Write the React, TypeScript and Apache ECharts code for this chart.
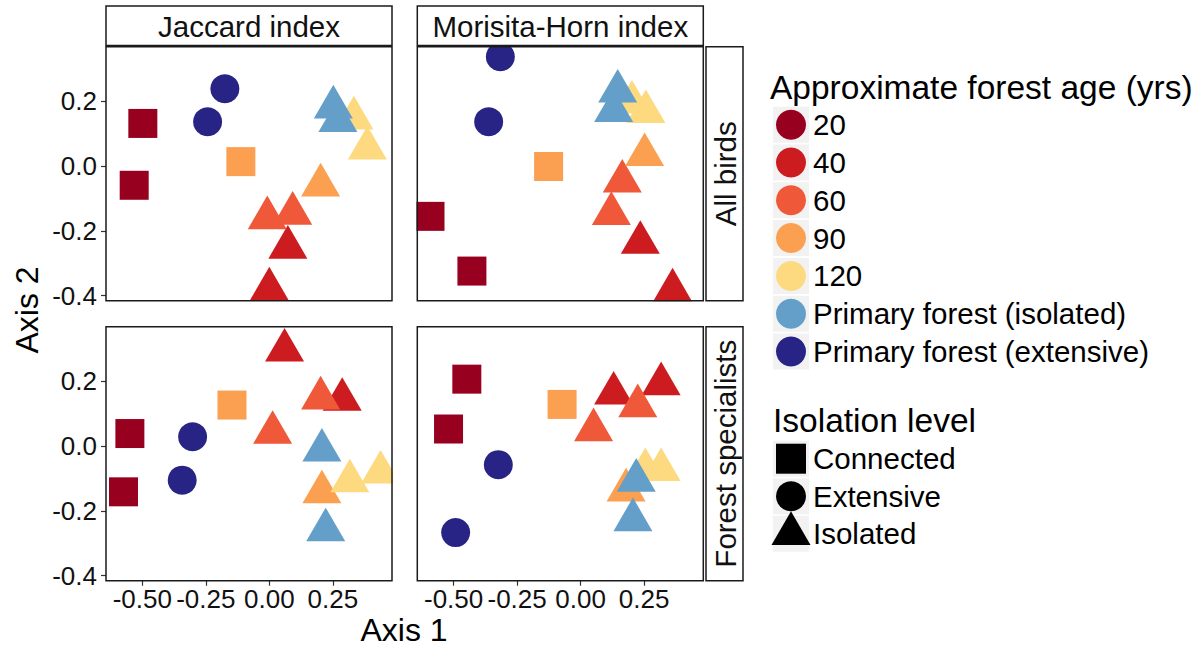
import React, { useEffect, useRef } from "react";
import * as echarts from "echarts";

// ---------- data ----------
const ageLevels = ["20", "40", "60", "90", "120", "Primary forest (isolated)", "Primary forest (extensive)"];
const ageColors = ["#97001F", "#CC1C20", "#EF5838", "#FB9F51", "#FDD980", "#649FC9", "#272485"];
const isolationLevels = ["Connected", "Extensive", "Isolated"];
const facetCols = ["Jaccard index", "Morisita-Horn index"];
const facetRows = ["All birds", "Forest specialists"];
const xTicks = [-0.5, -0.25, 0, 0.25];
const yTicks = [-0.4, -0.2, 0, 0.2];

// 14 sites, same order in each panel
const siteAge = [
  "20", "20", "90",
  "Primary forest (extensive)", "Primary forest (extensive)",
  "40", "40", "60", "60", "90", "120", "120",
  "Primary forest (isolated)", "Primary forest (isolated)",
];
const siteIsolation = [
  "Connected", "Connected", "Connected",
  "Extensive", "Extensive",
  "Isolated", "Isolated", "Isolated", "Isolated", "Isolated", "Isolated", "Isolated",
  "Isolated", "Isolated",
];

const jaccardAllX = [-0.498, -0.532, -0.112, -0.175, -0.243, 0.073, 0.0, -0.008, 0.092, 0.202, 0.333, 0.386, 0.252, 0.27];
const jaccardAllY = [0.132, -0.059, 0.014, 0.239, 0.137, -0.251, -0.38, -0.16, -0.146, -0.059, 0.148, 0.055, 0.182, 0.14];

const morisitaAllX = [-0.593, -0.428, -0.126, -0.316, -0.362, 0.235, 0.362, 0.164, 0.121, 0.252, 0.202, 0.257, 0.146, 0.13];
const morisitaAllY = [-0.155, -0.324, -0.001, 0.338, 0.137, -0.236, -0.383, -0.047, -0.147, 0.035, 0.197, 0.168, 0.231, 0.171];

const jaccardForestX = [-0.549, -0.574, -0.147, -0.302, -0.343, 0.06, 0.287, 0.202, 0.013, 0.207, 0.317, 0.438, 0.207, 0.222];
const jaccardForestY = [0.039, -0.141, 0.127, 0.029, -0.105, 0.296, 0.144, 0.148, 0.042, -0.142, -0.108, -0.081, -0.013, -0.259];

const morisitaForestX = [-0.448, -0.52, -0.073, -0.324, -0.492, 0.13, 0.317, 0.225, 0.051, 0.179, 0.255, 0.317, 0.219, 0.206];
const morisitaForestY = [0.207, 0.053, 0.129, -0.057, -0.267, 0.163, 0.192, 0.124, 0.05, -0.136, -0.073, -0.073, -0.106, -0.228];

// ---------- layout ----------
const FONT = "Liberation Sans";
const X_MIN = -0.643, X_MAX = 0.483;
const Y_MIN = -0.4155, Y_MAX = 0.369;
const panelLeft = [106, 417.3];
const panelTop = [46.7, 326.7];
const PW = 286, PH = 254;
const SQ = 29, CIR = 29, TRI_W = 39, TRI_H = 33.6;

const panels = [
  { r: 0, c: 0, xs: jaccardAllX, ys: jaccardAllY },
  { r: 0, c: 1, xs: morisitaAllX, ys: morisitaAllY },
  { r: 1, c: 0, xs: jaccardForestX, ys: jaccardForestY },
  { r: 1, c: 1, xs: morisitaForestX, ys: morisitaForestY },
];

function symbolFor(iso: string) {
  if (iso === "Connected") return { symbol: "rect", symbolSize: SQ, symbolOffset: [0, 0] };
  if (iso === "Extensive") return { symbol: "circle", symbolSize: CIR, symbolOffset: [0, 0] };
  return { symbol: "triangle", symbolSize: [TRI_W, TRI_H], symbolOffset: [0, -TRI_H / 6] };
}

function buildOption() {
  const grid = panels.map((p) => ({ left: panelLeft[p.c], top: panelTop[p.r], width: PW, height: PH }));
  const xAxis = panels.map((p, i) => ({
    type: "value", gridIndex: i, min: X_MIN, max: X_MAX, position: "bottom",
    splitLine: { show: false }, axisLine: { show: false, onZero: false },
    axisTick: { show: p.r === 1, customValues: xTicks, length: 5, lineStyle: { color: "#333", width: 1.2 } },
    axisLabel: {
      show: p.r === 1, customValues: xTicks, margin: 5,
      formatter: (v: number) => v.toFixed(2),
      color: "#111", fontSize: 26, fontFamily: FONT,
    },
  }));
  const yAxis = panels.map((p, i) => ({
    type: "value", gridIndex: i, min: Y_MIN, max: Y_MAX, position: "left",
    splitLine: { show: false }, axisLine: { show: false, onZero: false },
    axisTick: { show: p.c === 0, customValues: yTicks, length: 5, lineStyle: { color: "#333", width: 1.2 } },
    axisLabel: {
      show: p.c === 0, customValues: yTicks, margin: 9,
      formatter: (v: number) => v.toFixed(1),
      color: "#111", fontSize: 26, fontFamily: FONT,
    },
  }));
  const series = panels.map((p, i) => ({
    type: "scatter", xAxisIndex: i, yAxisIndex: i, silent: true, z: 2,
    data: p.xs.map((x, k) => ({
      value: [x, p.ys[k]],
      ...symbolFor(siteIsolation[k]),
      itemStyle: { color: ageColors[ageLevels.indexOf(siteAge[k])], opacity: 1 },
    })),
  }));

  const border = { stroke: "#1a1a1a", lineWidth: 1.5 };
  const g: any[] = [];
  // white masks (clip overflow)
  g.push({ type: "rect", z: 50, silent: true, shape: { x: 392.8, y: 40, width: 23.7, height: 560 }, style: { fill: "#fff" } });
  g.push({ type: "rect", z: 50, silent: true, shape: { x: 106, y: 301.5, width: 598, height: 24.4 }, style: { fill: "#fff" } });
  g.push({ type: "rect", z: 50, silent: true, shape: { x: 704.1, y: 40, width: 1.2, height: 560 }, style: { fill: "#fff" } });
  // panel borders
  panels.forEach((p) => {
    g.push({ type: "rect", z: 60, silent: true, shape: { x: panelLeft[p.c], y: panelTop[p.r], width: PW, height: PH }, style: { fill: "none", ...border } });
  });
  // top strips
  facetCols.forEach((t, c) => {
    g.push({ type: "rect", z: 60, silent: true, shape: { x: panelLeft[c], y: 6, width: PW, height: 39.5 }, style: { fill: "#fff", ...border } });
    g.push({ type: "text", z: 61, silent: true, x: panelLeft[c] + PW / 2, y: 26, style: { text: t, font: `29.5px '${FONT}'`, fill: "#111", textAlign: "center", textVerticalAlign: "middle" } });
  });
  // right strips
  facetRows.forEach((t, r) => {
    g.push({ type: "rect", z: 60, silent: true, shape: { x: 706, y: panelTop[r], width: 37, height: PH }, style: { fill: "#fff", ...border } });
    g.push({ type: "text", z: 61, silent: true, x: 725, y: panelTop[r] + PH / 2, rotation: Math.PI / 2, style: { text: t, font: `29.5px '${FONT}'`, fill: "#111", textAlign: "center", textVerticalAlign: "middle" } });
  });
  // axis titles
  g.push({ type: "text", z: 61, silent: true, x: 404, y: 630, style: { text: "Axis 1", font: `32px '${FONT}'`, fill: "#000", textAlign: "center", textVerticalAlign: "middle" } });
  g.push({ type: "text", z: 61, silent: true, x: 27, y: 310, rotation: Math.PI / 2, style: { text: "Axis 2", font: `32px '${FONT}'`, fill: "#000", textAlign: "center", textVerticalAlign: "middle" } });

  // legend: colour
  const LX = 773, KEY = 36;
  g.push({ type: "text", z: 61, silent: true, x: 770, y: 87, style: { text: "Approximate forest age (yrs)", font: `33.5px '${FONT}'`, fill: "#000", textAlign: "left", textVerticalAlign: "middle" } });
  ageLevels.forEach((lab, i) => {
    const cy = 124.7 + i * 37.8;
    g.push({ type: "rect", z: 60, silent: true, shape: { x: LX, y: cy - KEY / 2, width: KEY, height: KEY }, style: { fill: "#F2F2F2" } });
    g.push({ type: "circle", z: 61, silent: true, shape: { cx: LX + KEY / 2, cy, r: 15 }, style: { fill: ageColors[i] } });
    g.push({ type: "text", z: 61, silent: true, x: 813, y: cy, style: { text: lab, font: `29.5px '${FONT}'`, fill: "#000", textAlign: "left", textVerticalAlign: "middle" } });
  });
  // legend: shape
  g.push({ type: "text", z: 61, silent: true, x: 773, y: 420.6, style: { text: "Isolation level", font: `33.5px '${FONT}'`, fill: "#000", textAlign: "left", textVerticalAlign: "middle" } });
  isolationLevels.forEach((lab, i) => {
    const cy = 458.7 + i * 37.5;
    const cx = LX + KEY / 2;
    g.push({ type: "rect", z: 60, silent: true, shape: { x: LX, y: cy - KEY / 2, width: KEY, height: KEY }, style: { fill: "#F2F2F2" } });
    if (lab === "Connected") {
      g.push({ type: "rect", z: 61, silent: true, shape: { x: cx - 15, y: cy - 15, width: 30, height: 30 }, style: { fill: "#000" } });
    } else if (lab === "Extensive") {
      g.push({ type: "circle", z: 61, silent: true, shape: { cx, cy, r: 15 }, style: { fill: "#000" } });
    } else {
      g.push({ type: "polygon", z: 62, silent: true, shape: { points: [[cx - TRI_W / 2, cy + TRI_H / 3], [cx + TRI_W / 2, cy + TRI_H / 3], [cx, cy - (2 * TRI_H) / 3]] }, style: { fill: "#000" } });
    }
    g.push({ type: "text", z: 61, silent: true, x: 813, y: cy, style: { text: lab, font: `29.5px '${FONT}'`, fill: "#000", textAlign: "left", textVerticalAlign: "middle" } });
  });

  return {
    animation: false,
    backgroundColor: "#fff",
    grid, xAxis, yAxis, series,
    graphic: { elements: g },
  };
}

export default function App() {
  const ref = useRef<HTMLDivElement>(null);
  useEffect(() => {
    if (!ref.current) return;
    const chart = echarts.init(ref.current, null, { renderer: "svg" });
    chart.setOption(buildOption() as any);
    return () => chart.dispose();
  }, []);
  return <div ref={ref} style={{ position: "absolute", left: 0, top: 0, width: 1201, height: 653 }} />;
}
